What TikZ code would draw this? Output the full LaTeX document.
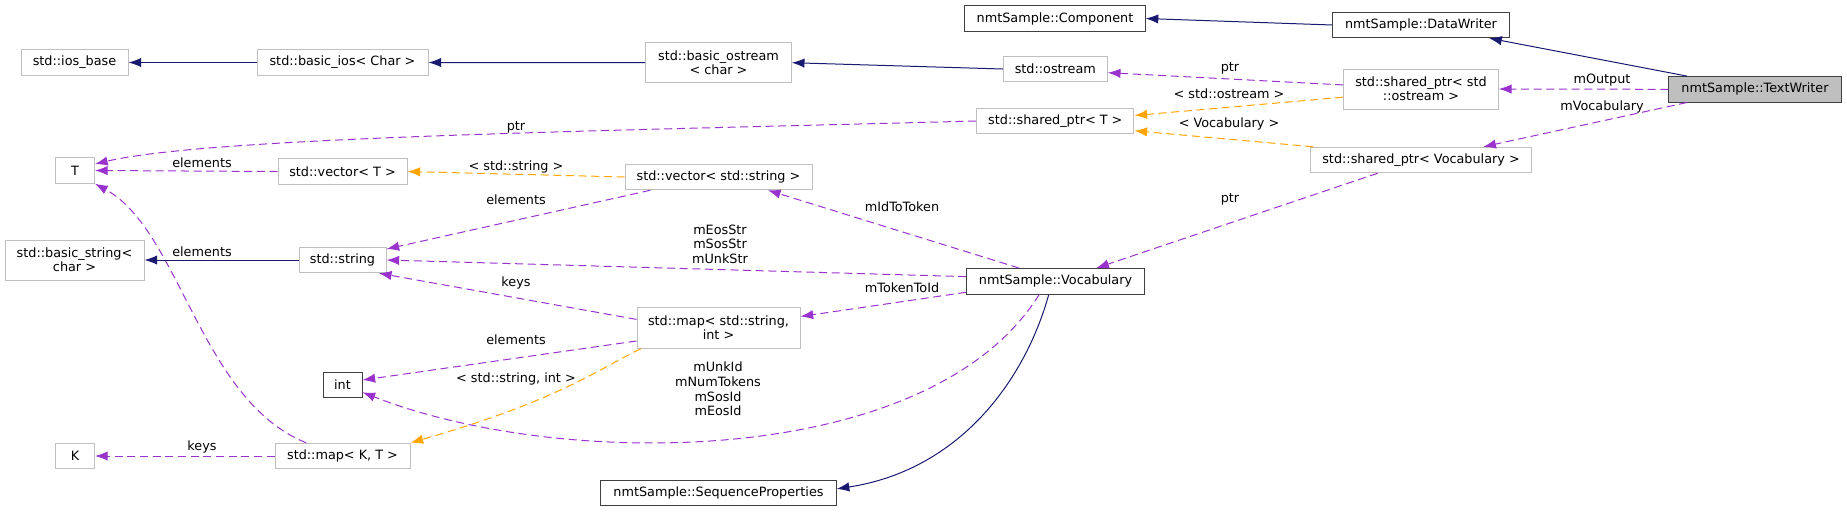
\documentclass[tikz,border=0pt]{standalone}
\usepackage{fontspec}
\setmainfont{DejaVu Sans}
\usetikzlibrary{arrows.meta}

\definecolor{edgeblue}{HTML}{191970}
\definecolor{edgepurple}{HTML}{9A32CD}
\definecolor{edgeorange}{HTML}{FFA500}
\definecolor{boxgray}{HTML}{BFBFBF}
\definecolor{boxdark}{HTML}{404040}

\begin{document}
\begin{tikzpicture}[
                x=0.75pt, y=-0.75pt,
                >={Latex[length=9.5pt,width=7pt]},
                cls/.style={draw=boxgray, fill=white, rectangle, align=center, inner sep=0pt, line width=0.75pt, minimum height=19.1pt, font=\fontsize{9.6}{10.6}\selectfont},
                doc/.style={cls, draw=boxdark},
                mainbox/.style={doc, fill=boxgray},
                inherit/.style={->, edgeblue, line width=0.75pt},
                member/.style={->, edgepurple, line width=0.75pt, dash pattern=on 6pt off 3.5pt},
                templ/.style={->, edgeorange, line width=0.75pt, dash pattern=on 6pt off 3.5pt},
                lbl/.style={align=center, inner sep=0pt, text=black, font=\fontsize{9.6}{10.9}\selectfont}
            ]
            \useasboundingbox (0,0) rectangle (1847,512);

            % Nodes (right side)
            \node[mainbox, minimum width=129.2pt] (textwriter) at (1755,89.3) {nmtSample::TextWriter};
            \node[doc, minimum width=132.2pt] (datawriter) at (1421,25) {nmtSample::DataWriter};
            \node[doc, minimum width=135.2pt] (component) at (1055,18.5) {nmtSample::Component};
            \node[cls, minimum width=116pt, minimum height=30pt] (sp_ostream) at (1421,89) {std::shared\_ptr< std\\::ostream >};
            \node[cls, minimum width=166.3pt] (sp_vocab) at (1421,160) {std::shared\_ptr< Vocabulary >};
            \node[cls, minimum width=78pt] (ostream) at (1055.3,69) {std::ostream};
            \node[cls, minimum width=118pt] (sp_t) at (1055.3,121) {std::shared\_ptr< T >};
            \node[doc, minimum width=133.2pt] (vocab) at (1055.5,281.3) {nmtSample::Vocabulary};

            % Nodes (middle)
            \node[cls, minimum width=109.2pt, minimum height=30pt] (basic_ostream) at (718.5,62.7) {std::basic\_ostream\\< char >};
            \node[cls, minimum width=140.25pt] (vec_str) at (718.5,177) {std::vector< std::string >};
            \node[cls, minimum width=122.25pt, minimum height=30.5pt] (map_str) at (718.5,328) {std::map< std::string,\\int >};
            \node[doc, minimum width=176.5pt] (seqprops) at (718.5,493) {nmtSample::SequenceProperties};
            \node[cls, minimum width=128.25pt] (basic_ios) at (342.5,62.5) {std::basic\_ios< Char >};
            \node[cls, minimum width=96.75pt] (vec_t) at (342.5,171.5) {std::vector< T >};
            \node[cls, minimum width=65.25pt] (string) at (342.5,260) {std::string};
            \node[doc, minimum width=29.25pt] (int) at (342.5,385) {int};
            \node[cls, minimum width=101.25pt] (map_kt) at (342.5,456) {std::map< K, T >};

            % Nodes (left side)
            \node[cls, minimum width=80.25pt] (ios_base) at (74.5,62.5) {std::ios\_base};
            \node[cls, minimum width=29.25pt] (T) at (75,170.5) {T};
            \node[cls, minimum width=104.25pt, minimum height=30pt] (basic_string) at (74.5,260) {std::basic\_string<\\char >};
            \node[cls, minimum width=29.25pt] (K) at (75,456) {K};

            % Edges
            \draw[inherit] (datawriter.west) -- (component.east);
            \draw[inherit] (textwriter.169.5) -- (datawriter.349);
            \draw[member] (textwriter.west) -- (sp_ostream.east) node[lbl] (l-output) at (1602,80) {mOutput};
            \draw[member] (textwriter.191) -- (sp_vocab.12.4) node[lbl] (l-vocabulary) at (1602,107) {mVocabulary};
            \draw[member] (sp_ostream.177) -- (ostream.356.7) node[lbl] (l-ptr-os) at (1230,68) {ptr};
            \draw[templ] (sp_ostream.186) -- (sp_t.4.4) node[lbl] (l-tp-os) at (1229,94) {< std::ostream >};
            \draw[templ] (sp_vocab.173.8) -- (sp_t.353.5) node[lbl] (l-tp-voc) at (1229,124) {< Vocabulary >};
            \draw[member] (sp_vocab.197.6) -- (vocab.18.2) node[lbl] (l-ptr-voc) at (1230,199) {ptr};
            \draw[inherit] (ostream.west) -- (basic_ostream.east);
            \draw[inherit] (basic_ostream.west) -- (basic_ios.east);
            \draw[inherit] (basic_ios.west) -- (ios_base.east);
            \draw[member] (sp_t.west) .. controls (600,131) and (210,137) .. (T.18.4) node[lbl] (l-ptr-t) at (516,127) {ptr};
            \draw[templ] (vec_str.west) -- (vec_t.east) node[lbl] (l-tp-str) at (516,167) {< std::string >};
            \draw[member] (vec_t.west) -- (T.east) node[lbl] (l-elem-vt) at (202,163) {elements};
            \draw[member] (vec_str.191.9) -- (string.14.2) node[lbl] (l-elem-vs) at (516,200) {elements};
            \draw[member] (vocab.160.9) -- (vec_str.345.8) node[lbl] (l-idtotoken) at (902,207) {mIdToToken};
            \draw[member] (vocab.177.9) -- (string.east) node[lbl] (l-strs) at (720,244) {mEosStr\\mSosStr\\mUnkStr};
            \draw[member] (vocab.187.9) -- (map_str.8.4) node[lbl] (l-tokentoid) at (902,288) {mTokenToId};
            \draw[member] (map_str.174.4) -- (string.340.9) node[lbl] (l-keys-ms) at (516,283) {keys};
            \draw[member] (map_str.189.1) -- (int.14.4) node[lbl] (l-elem-ms) at (516,340) {elements};
            \draw[templ] (map_str.195.4) .. controls (600,368) and (560,400) .. (map_kt.north east) node[lbl] (l-tp-map) at (516,379) {< std::string, int >};
            \draw[member] (vocab.219.3) .. controls (930,470) and (560,470) .. (int.340.3) node[lbl] (l-ids) at (718,389) {mUnkId\\mNumTokens\\mSosId\\mEosId};
            \draw[inherit] (vocab.243) .. controls (1025,380) and (960,470) .. (seqprops.2.9);
            \draw[member] (map_kt.160.9) .. controls (200,400) and (180,230) .. (T.south east) node[lbl] (l-elem-mk) at (202,252) {elements};
            \draw[inherit] (string.west) -- (basic_string.east);
            \draw[member] (map_kt.west) -- (K.east) node[lbl] (l-keys-mk) at (202,447) {keys};
            \end{tikzpicture}
\end{document}
